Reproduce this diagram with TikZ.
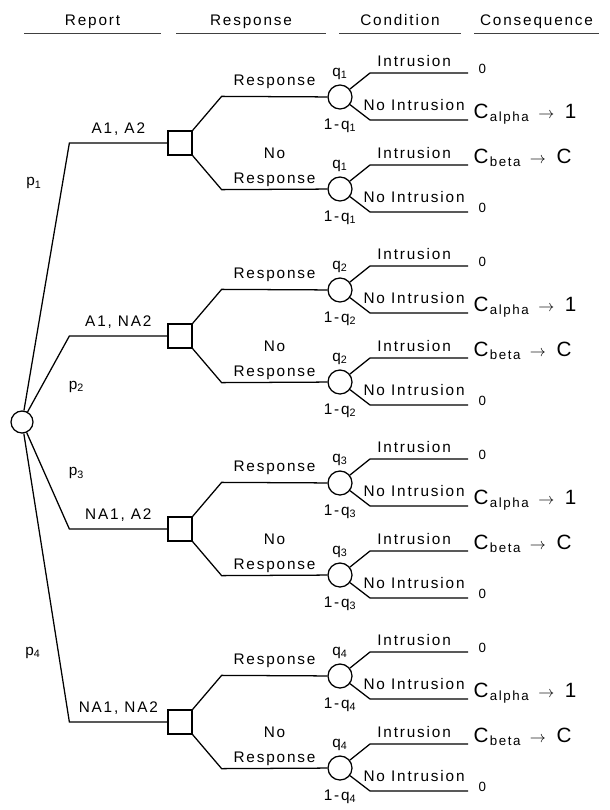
\documentclass[tikz,border=0pt]{standalone}
\usepackage{fontspec}
\setmainfont{Liberation Sans}[LetterSpace=12]
\usetikzlibrary{positioning}

\newcommand{\Calpha}{{\fontsize{15.5}{16}\selectfont C}\hspace{1pt}\raisebox{-2.25pt}{\fontsize{10}{12}\selectfont alpha}\hspace{7pt}$\rightarrow$\hspace{8pt}{\fontsize{15.5}{16}\selectfont 1}}
\newcommand{\Cbeta}{{\fontsize{15.5}{16}\selectfont C}\hspace{1pt}\raisebox{-2.25pt}{\fontsize{10}{12}\selectfont beta}\hspace{7pt}$\rightarrow$\hspace{8pt}{\fontsize{15.5}{16}\selectfont C}}

\tikzset{
  dec/.style={draw, rectangle, minimum size=18pt, inner sep=0pt},
  chance/.style={draw, circle, minimum size=18pt, inner sep=0pt},
  prob/.style={chance, label={above:q\textsubscript{#1}},
    label={[label distance=3pt]below:1-q\textsubscript{#1}}},
  head/.style={anchor=base, text depth=2pt, inner ysep=3.6pt},
  rule/.style={line width=0.6pt, black!75},
  payoff/.style={anchor=base west, inner xsep=3.75pt, yshift=1.5pt},
  nul/.style={anchor=base west, inner xsep=7.5pt, font=\fontsize{10}{12}\selectfont},
}

\begin{document}
\begin{tikzpicture}[font=\fontsize{11.5}{13.8}\selectfont, line width=0.95pt, on grid]

   \useasboundingbox (0,0) rectangle (457.5pt,-607.5pt);

   % En-tetes
   \node[head, minimum width=101.25pt] (hrep) at (69.4pt,-19.1pt) {Report};
   \node[head, minimum width=111pt] (hres) at (188.25pt,-19.1pt) {Response};
   \node[head, minimum width=90pt] (hcon) at (300pt,-19.1pt) {Condition};
   \node[head, minimum width=92.25pt] (hcsq) at (402.4pt,-19.1pt) {Consequence};
   \draw[rule] (hrep.south west) -- (hrep.south east);
   \draw[rule] (hres.south west) -- (hres.south east);
   \draw[rule] (hcon.south west) -- (hcon.south east);
   \draw[rule] (hcsq.south west) -- (hcsq.south east);

   \node[chance, minimum size=16.5pt] (root) at (16.5pt,-316.5pt) {};

   % Rapport A1, A2
   \node[dec] (sq1) [above right=209.25pt and 118.5pt of root] {};
   \node[prob=1] (c1a) [above right=34.5pt and 120pt of sq1] {};
   \node[prob=1] (c1b) [below right=34.5pt and 120pt of sq1] {};
   \draw (sq1.west) -- ++(-73.5pt,0) node[midway, above=1.6pt] {A1, A2}
      -- (root) node[pos=.15, left=12pt] {p\textsubscript{1}};
   \draw (sq1.north east) -- ++(21.75pt,25.5pt) -- (c1a) node[midway, above=2pt] {Response};
   \draw (sq1.south east) -- ++(21.75pt,-25.5pt) -- (c1b)
      node[midway, above=-1.5pt, align=center] {No\\[4.6pt]Response};
   \draw (c1a) -- ++(22.5pt,18pt) -- ++(73.5pt,0) node[pos=.45, above=1pt] {Intrusion} node[nul] (o1a) {0};
   \draw (c1a) -- ++(22.5pt,-17.25pt) -- ++(73.5pt,0) node[pos=.45, above=3.5pt] {No Intrusion} node[payoff] (o1b) {\Calpha};
   \draw (c1b) -- ++(22.5pt,18pt) -- ++(73.5pt,0) node[pos=.45, above=1pt] {Intrusion} node[payoff] (o1c) {\Cbeta};
   \draw (c1b) -- ++(22.5pt,-17.25pt) -- ++(73.5pt,0) node[pos=.45, above=3.5pt] {No Intrusion} node[nul] (o1d) {0};

   % Rapport A1, NA2
   \node[dec] (sq2) [above right=64.5pt and 118.5pt of root] {};
   \node[prob=2] (c2a) [above right=34.5pt and 120pt of sq2] {};
   \node[prob=2] (c2b) [below right=34.5pt and 120pt of sq2] {};
   \draw (sq2.west) -- ++(-73.5pt,0) node[midway, above=1.6pt] {A1, NA2}
      -- (root) node[pos=.67, right=16.8pt] {p\textsubscript{2}};
   \draw (sq2.north east) -- ++(21.75pt,25.5pt) -- (c2a) node[midway, above=2pt] {Response};
   \draw (sq2.south east) -- ++(21.75pt,-25.5pt) -- (c2b)
      node[midway, above=-1.5pt, align=center] {No\\[4.6pt]Response};
   \draw (c2a) -- ++(22.5pt,18pt) -- ++(73.5pt,0) node[pos=.45, above=1pt] {Intrusion} node[nul] (o2a) {0};
   \draw (c2a) -- ++(22.5pt,-17.25pt) -- ++(73.5pt,0) node[pos=.45, above=3.5pt] {No Intrusion} node[payoff] (o2b) {\Calpha};
   \draw (c2b) -- ++(22.5pt,18pt) -- ++(73.5pt,0) node[pos=.45, above=1pt] {Intrusion} node[payoff] (o2c) {\Cbeta};
   \draw (c2b) -- ++(22.5pt,-17.25pt) -- ++(73.5pt,0) node[pos=.45, above=3.5pt] {No Intrusion} node[nul] (o2d) {0};

   % Rapport NA1, A2
   \node[dec] (sq3) [below right=80.25pt and 118.5pt of root] {};
   \node[prob=3] (c3a) [above right=34.5pt and 120pt of sq3] {};
   \node[prob=3] (c3b) [below right=34.5pt and 120pt of sq3] {};
   \draw (sq3.west) -- ++(-73.5pt,0) node[midway, above=1.6pt] {NA1, A2}
      -- (root) node[pos=.58, right=14.3pt] {p\textsubscript{3}};
   \draw (sq3.north east) -- ++(21.75pt,25.5pt) -- (c3a) node[midway, above=2pt] {Response};
   \draw (sq3.south east) -- ++(21.75pt,-25.5pt) -- (c3b)
      node[midway, above=-1.5pt, align=center] {No\\[4.6pt]Response};
   \draw (c3a) -- ++(22.5pt,18pt) -- ++(73.5pt,0) node[pos=.45, above=1pt] {Intrusion} node[nul] (o3a) {0};
   \draw (c3a) -- ++(22.5pt,-17.25pt) -- ++(73.5pt,0) node[pos=.45, above=3.5pt] {No Intrusion} node[payoff] (o3b) {\Calpha};
   \draw (c3b) -- ++(22.5pt,18pt) -- ++(73.5pt,0) node[pos=.45, above=1pt] {Intrusion} node[payoff] (o3c) {\Cbeta};
   \draw (c3b) -- ++(22.5pt,-17.25pt) -- ++(73.5pt,0) node[pos=.45, above=3.5pt] {No Intrusion} node[nul] (o3d) {0};

   % Rapport NA1, NA2
   \node[dec] (sq4) [below right=225pt and 118.5pt of root] {};
   \node[prob=4] (c4a) [above right=34.5pt and 120pt of sq4] {};
   \node[prob=4] (c4b) [below right=34.5pt and 120pt of sq4] {};
   \draw (sq4.west) -- ++(-73.5pt,0) node[midway, above=1.6pt] {NA1, NA2}
      -- (root) node[pos=.24, left=9.6pt] {p\textsubscript{4}};
   \draw (sq4.north east) -- ++(21.75pt,25.5pt) -- (c4a) node[midway, above=2pt] {Response};
   \draw (sq4.south east) -- ++(21.75pt,-25.5pt) -- (c4b)
      node[midway, above=-1.5pt, align=center] {No\\[4.6pt]Response};
   \draw (c4a) -- ++(22.5pt,18pt) -- ++(73.5pt,0) node[pos=.45, above=1pt] {Intrusion} node[nul] (o4a) {0};
   \draw (c4a) -- ++(22.5pt,-17.25pt) -- ++(73.5pt,0) node[pos=.45, above=3.5pt] {No Intrusion} node[payoff] (o4b) {\Calpha};
   \draw (c4b) -- ++(22.5pt,18pt) -- ++(73.5pt,0) node[pos=.45, above=1pt] {Intrusion} node[payoff] (o4c) {\Cbeta};
   \draw (c4b) -- ++(22.5pt,-17.25pt) -- ++(73.5pt,0) node[pos=.45, above=3.5pt] {No Intrusion} node[nul] (o4d) {0};

\end{tikzpicture}
\end{document}
